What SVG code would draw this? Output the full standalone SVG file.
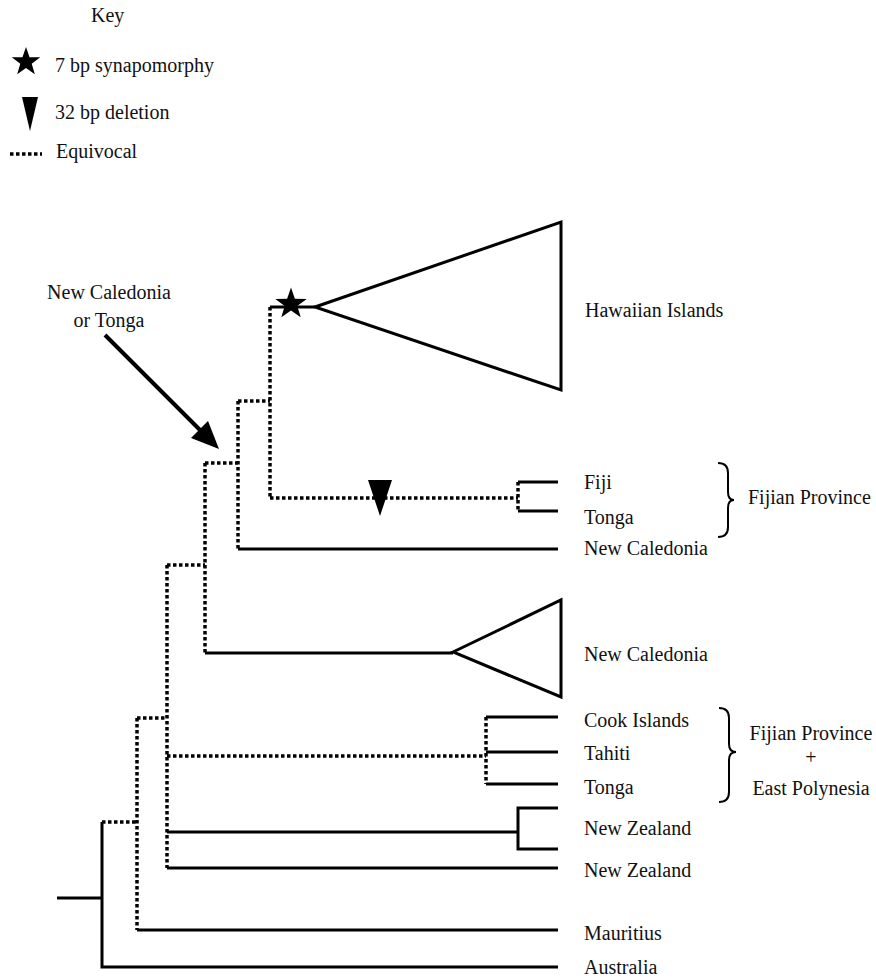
<svg xmlns="http://www.w3.org/2000/svg" width="876" height="979" viewBox="0 0 876 979">
<style>
text{font-family:"Liberation Serif","Times New Roman",serif;font-size:20px;fill:#111}
.s{stroke:#000;stroke-width:3;fill:none}
.d{stroke:#000;stroke-width:3.5;fill:none;stroke-dasharray:3.5 2.5}
.b{stroke:#000;stroke-width:2;fill:none}
</style>
<defs>
<path id="star" d="M0,-15 L3.53,-4.85 L14.27,-4.64 L5.71,1.85 L8.82,12.14 L0,6 L-8.82,12.14 L-5.71,1.85 L-14.27,-4.64 L-3.53,-4.85 Z" fill="#000"/>
</defs>
<rect width="876" height="979" fill="#fff"/>
<g id="key">
<text x="91" y="22">Key</text>
<use href="#star" transform="translate(26,62)"/>
<text x="55" y="72">7 bp synapomorphy</text>
<polygon points="22,97 38,97 30,131" fill="#000"/>
<text x="55" y="119">32 bp deletion</text>
<line x1="10" y1="154" x2="42" y2="154" class="d"/>
<text x="56" y="158">Equivocal</text>
</g>
<g id="connectors">
<path class="s" d="M57,898 H102 M102,822 V967 H558"/>
<path class="d" d="M102,822 H137 M137,718 V930"/>
<path class="s" d="M137,930 H558"/>
<path class="d" d="M137,718 H167 M167,565 V868 M167,756 H486"/>
<path class="s" d="M167,832 H518 M167,868 H558 M558,808 H518 V849 H558"/>
<path class="d" d="M486,717 V784"/>
<path class="s" d="M486,717 H558 M486,752 H558 M486,784 H558"/>
<path class="d" d="M167,565 H205 M205,463 V653"/>
<path class="s" d="M205,653 H453"/>
<path class="d" d="M205,463 H238 M238,401 V549"/>
<path class="s" d="M238,549 H558"/>
<path class="d" d="M238,401 H270 M270,307 V498 M270,498 H518 M518,482 V511"/>
<path class="s" d="M270,307 H315 M518,482 H558 M518,511 H558"/>
<line x1="105" y1="335" x2="205" y2="435" stroke="#000" stroke-width="4"/>
<polygon points="219,449 191,438 208,421" fill="#000"/>
</g>
<g id="clade-hawaii">
<path class="s" stroke-linejoin="miter" d="M315,307 L561,222 L561,390 Z"/>
<use href="#star" transform="translate(291,304) scale(1.1)"/>
<text x="585" y="317">Hawaiian Islands</text>
</g>
<g id="marker-deletion">
<polygon points="368,480 392,480 380,516" fill="#000"/>
</g>
<g id="annot">
<text x="109" y="299" text-anchor="middle">New Caledonia</text>
<text x="109" y="327" text-anchor="middle">or Tonga</text>
</g>
<g id="leaf-fiji"><text x="584" y="489">Fiji</text></g>
<g id="leaf-tonga1"><text x="584" y="524">Tonga</text></g>
<g id="leaf-nc1"><text x="584" y="555">New Caledonia</text></g>
<g id="clade-nc2">
<path class="s" stroke-linejoin="miter" d="M453,652 L561,600 L561,697 Z"/>
<text x="584" y="661">New Caledonia</text>
</g>
<g id="leaf-cook"><text x="584" y="727">Cook Islands</text></g>
<g id="leaf-tahiti"><text x="584" y="760">Tahiti</text></g>
<g id="leaf-tonga2"><text x="584" y="794">Tonga</text></g>
<g id="leaf-nz1"><text x="584" y="835">New Zealand</text></g>
<g id="leaf-nz2"><text x="584" y="877">New Zealand</text></g>
<g id="leaf-mauritius"><text x="584" y="940">Mauritius</text></g>
<g id="leaf-australia"><text x="584" y="974">Australia</text></g>
<g id="group-fijian">
<path class="b" d="M718,463 Q728,463 728,473 L728,492 Q728,500 734,500 Q728,500 728,508 L728,527 Q728,537 718,537"/>
<text x="748" y="504">Fijian Province</text>
</g>
<g id="group-fijian-east">
<path class="b" d="M719,708 Q729,708 729,718 L729,744 Q729,752 736,752 Q729,752 729,760 L729,792 Q729,802 719,802"/>
<text x="811" y="740" text-anchor="middle">Fijian Province</text>
<text x="811" y="764" text-anchor="middle">+</text>
<text x="811" y="795" text-anchor="middle">East Polynesia</text>
</g>
</svg>
